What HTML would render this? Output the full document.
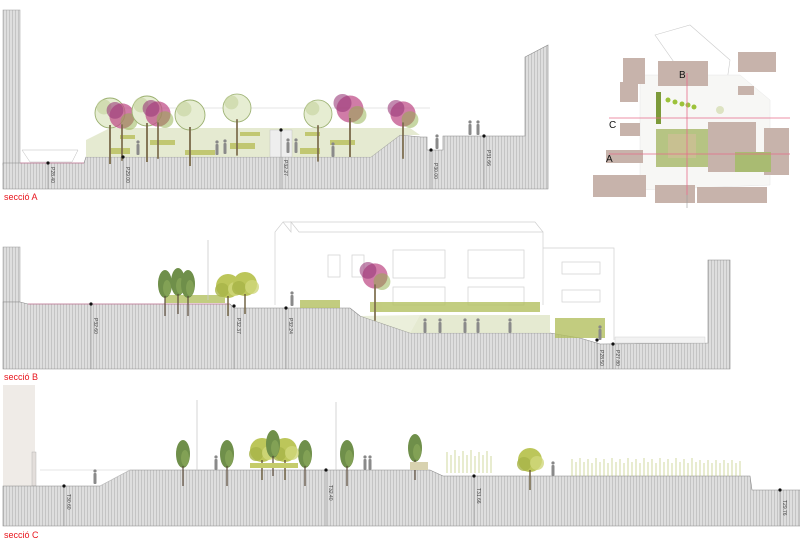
<!DOCTYPE html>
<html><head><meta charset="utf-8"><style>
html,body{margin:0;padding:0;background:#fff;}
svg{display:block;}
.lbl{font-family:"Liberation Sans",sans-serif;font-size:9px;fill:#e8141c;}
.el{font-family:"Liberation Sans",sans-serif;font-size:5px;fill:#444;}
.mk{font-family:"Liberation Sans",sans-serif;font-size:10px;fill:#111;}
</style></head><body>
<svg width="800" height="550" viewBox="0 0 800 550" xmlns="http://www.w3.org/2000/svg">
<defs>
<pattern id="h" width="3" height="10" patternUnits="userSpaceOnUse">
<rect width="3" height="10" fill="#dedede"/><rect width="1" height="10" fill="#c4c4c4"/>
</pattern>
<g id="tp">
<circle cx="0" cy="-10" r="9" fill="#c0508a" opacity=".75"/>
<circle cx="-5" cy="-14" r="6" fill="#9a3a7a" opacity=".6"/>
<circle cx="5" cy="-6" r="6" fill="#8fb04a" opacity=".5"/>
<rect x="-0.6" y="-4" width="1.2" height="26" fill="#7a6a4a"/>
</g>
<g id="tg">
<circle cx="0" cy="-10" r="10" fill="#e6edd2" stroke="#9bb070" stroke-width=".6"/>
<circle cx="-4" cy="-14" r="5" fill="#c4d29c" opacity=".6"/>
<rect x="-0.6" y="-2" width="1.2" height="26" fill="#7a6a4a"/>
</g>
<g id="td">
<ellipse cx="0" cy="-14" rx="7" ry="14" fill="#6f8f4a"/>
<ellipse cx="2" cy="-10" rx="4" ry="8" fill="#8aa85a" opacity=".7"/>
<rect x="-0.6" y="-2" width="1.2" height="20" fill="#5a4a3a"/>
</g>
<g id="ty">
<circle cx="0" cy="-12" r="12" fill="#bcc65a"/>
<circle cx="-6" cy="-8" r="7" fill="#a8b448" opacity=".8"/>
<circle cx="7" cy="-9" r="7" fill="#cfd77a" opacity=".8"/>
<rect x="-0.7" y="-2" width="1.4" height="20" fill="#6a5a3a"/>
</g>
<g id="p"><circle cx="0" cy="-13" r="1.6" fill="#888"/><rect x="-1.5" y="-11" width="3" height="11" rx="1" fill="#8a8a8a"/></g>
</defs>

<!-- ===== SECTION A ===== -->
<rect x="3" y="10" width="17" height="155" fill="url(#h)" stroke="#999" stroke-width=".5"/>
<path d="M3 189 L3 163 L84 163 L86 157 L371 157 L400 135 L421 137 L427 137 L427 150 L443 150 L443 136 L525 136 L525 57 L548 45 L548 189 Z" fill="url(#h)" stroke="#888" stroke-width=".6"/>
<path d="M20 163 L84 163" stroke="#c87a9a" stroke-width=".8"/>
<path d="M22 150 L78 150 L72 162 L30 162 Z" fill="none" stroke="#bbb" stroke-width=".5"/>
<path d="M86 157 L86 140 L110 128 L410 128 L420 135 L400 135 L371 157 Z" fill="#e2e8cc" opacity=".9"/>
<rect x="270" y="130" width="22" height="27" fill="#eee" stroke="#bbb" stroke-width=".4"/>
<path d="M95 108 L430 108" stroke="#ccc" stroke-width=".6"/>
<g fill="#b9bf5a" opacity=".8">
<rect x="110" y="148" width="20" height="6"/><rect x="150" y="140" width="25" height="5"/><rect x="185" y="150" width="30" height="5"/>
<rect x="230" y="143" width="25" height="6"/><rect x="300" y="148" width="20" height="6"/><rect x="330" y="140" width="25" height="5"/>
<rect x="120" y="135" width="15" height="4"/><rect x="240" y="132" width="20" height="4"/><rect x="305" y="132" width="15" height="4"/>
</g>
<g transform="translate(110,128) scale(1.5)"><use href="#tg"/></g>
<g transform="translate(122,130) scale(1.4)"><use href="#tp"/></g>
<g transform="translate(147,126) scale(1.5)"><use href="#tg"/></g>
<g transform="translate(158,128) scale(1.4)"><use href="#tp"/></g>
<g transform="translate(190,130) scale(1.5)"><use href="#tg"/></g>
<g transform="translate(237,122) scale(1.4)"><use href="#tg"/></g>
<g transform="translate(318,128) scale(1.4)"><use href="#tg"/></g>
<g transform="translate(350,124) scale(1.5)"><use href="#tp"/></g>
<g transform="translate(403,128) scale(1.4)"><use href="#tp"/></g>
<use href="#p" x="138" y="155"/><use href="#p" x="217" y="155"/><use href="#p" x="225" y="154"/>
<use href="#p" x="288" y="153"/><use href="#p" x="296" y="153"/><use href="#p" x="333" y="157"/><use href="#p" x="437" y="149"/>
<use href="#p" x="478" y="135"/><use href="#p" x="470" y="135"/>
<g stroke="#888" stroke-width=".5">
<line x1="48" y1="163" x2="48" y2="189"/><line x1="123" y1="157" x2="123" y2="189"/><line x1="281" y1="128" x2="281" y2="189"/>
<line x1="431" y1="150" x2="431" y2="189"/><line x1="484" y1="136" x2="484" y2="189"/>
</g>
<g fill="#111"><circle cx="48" cy="163" r="1.6"/><circle cx="123" cy="157" r="1.6"/><circle cx="281" cy="130" r="1.6"/><circle cx="431" cy="150" r="1.6"/><circle cx="484" cy="136" r="1.6"/></g>
<text class="el" transform="translate(51,167) rotate(90)">P28.40</text>
<text class="el" transform="translate(126,167) rotate(90)">P29.00</text>
<text class="el" transform="translate(284,160) rotate(90)">P32.27</text>
<text class="el" transform="translate(434,163) rotate(90)">P30.00</text>
<text class="el" transform="translate(487,150) rotate(90)">P31.66</text>
<text class="lbl" x="4" y="200">secció A</text>

<!-- ===== MAP ===== -->
<g>
<path d="M655 35 L690 25 L730 60 L725 95 L690 85 Z" fill="none" stroke="#ccc" stroke-width=".6"/>
<path d="M640 75 L740 75 L770 100 L770 185 L640 190 Z" fill="#f7f7f5" stroke="#e6e6e6" stroke-width=".5"/>
<g fill="#c7b3ab">
<rect x="623" y="58" width="22" height="26"/><rect x="620" y="82" width="18" height="20"/>
<rect x="658" y="61" width="50" height="25"/><rect x="738" y="52" width="38" height="20"/>
<rect x="738" y="86" width="16" height="9"/>
<rect x="620" y="123" width="20" height="13"/><rect x="606" y="150" width="37" height="13"/>
<rect x="708" y="122" width="48" height="50"/><rect x="764" y="128" width="25" height="47"/>
<rect x="593" y="175" width="53" height="22"/><rect x="655" y="185" width="40" height="18"/><rect x="697" y="187" width="70" height="16"/>
</g>
<rect x="656" y="129" width="52" height="38" fill="#b6c483"/>
<rect x="668" y="134" width="28" height="24" fill="#cdbf95" opacity=".8"/>
<rect x="656" y="92" width="5" height="32" fill="#7c9a3a"/>
<rect x="735" y="152" width="36" height="20" fill="#a9bb72"/>
<g fill="#9cc23a"><circle cx="668" cy="100" r="2.5"/><circle cx="675" cy="102" r="2.5"/><circle cx="682" cy="104" r="2.5"/><circle cx="688" cy="105" r="2.5"/><circle cx="694" cy="107" r="2.5"/></g>
<circle cx="720" cy="110" r="4" fill="#dde3c2"/>
<g stroke="#e66b8a" stroke-width=".8">
<line x1="609" y1="118" x2="790" y2="118"/><line x1="609" y1="154" x2="790" y2="154"/>
<line x1="687" y1="73" x2="687" y2="195"/>
</g>
<line x1="687" y1="195" x2="687" y2="208" stroke="#999" stroke-width=".6"/>
<text class="mk" x="609" y="128">C</text><text class="mk" x="606" y="162">A</text><text class="mk" x="679" y="78">B</text>
</g>

<!-- ===== SECTION B ===== -->
<g fill="none" stroke="#d0d0d0" stroke-width=".7">
<path d="M275 305 L275 232 L283 222 L291 232 L291 222 L299 232 L543 232 L543 305"/>
<path d="M283 222 L535 222 L543 232"/>
<path d="M543 248 L614 248 L614 340"/>
<rect x="328" y="255" width="12" height="22"/><rect x="352" y="255" width="12" height="22"/>
<rect x="393" y="250" width="52" height="28"/><rect x="468" y="250" width="56" height="28"/>
<rect x="393" y="287" width="52" height="18"/><rect x="468" y="287" width="56" height="18"/>
<rect x="562" y="262" width="38" height="12"/><rect x="562" y="290" width="38" height="12"/>
</g>
<rect x="3" y="247" width="17" height="55" fill="url(#h)" stroke="#999" stroke-width=".5"/>
<path d="M3 369 L3 302 L20 302 L28 304 L230 304 L234 308 L350 308 L360 316 L410 333 L550 333 L580 338 L600 344 L708 343 L708 260 L730 260 L730 369 Z" fill="url(#h)" stroke="#888" stroke-width=".6"/>
<path d="M28 304 L230 304" stroke="#c87a9a" stroke-width=".7"/>
<path d="M410 333 L550 333 L550 315 L420 315 Z" fill="#e2e8cc" opacity=".9"/>
<path d="M360 316 L410 333 L420 315 Z" fill="#e2e8cc" opacity=".7"/>
<rect x="615" y="337" width="90" height="6" fill="#f2f2f2" stroke="#ccc" stroke-width=".4"/>
<g fill="#b3c060" opacity=".8"><rect x="300" y="300" width="40" height="8"/><rect x="370" y="302" width="170" height="10"/><rect x="555" y="318" width="50" height="20"/><rect x="165" y="295" width="60" height="8"/></g>
<use href="#td" x="165" y="298"/><use href="#td" x="178" y="296"/><use href="#td" x="188" y="298"/>
<use href="#ty" x="228" y="298"/><use href="#ty" x="245" y="296"/>
<g transform="translate(375,290) scale(1.4)"><use href="#tp"/></g>
<line x1="208" y1="240" x2="208" y2="300" stroke="#ccc" stroke-width=".8"/>
<use href="#p" x="292" y="306"/><use href="#p" x="425" y="333"/><use href="#p" x="440" y="333"/><use href="#p" x="465" y="333"/><use href="#p" x="478" y="333"/><use href="#p" x="510" y="333"/><use href="#p" x="600" y="340"/>
<g stroke="#888" stroke-width=".5">
<line x1="91" y1="304" x2="91" y2="369"/><line x1="234" y1="306" x2="234" y2="369"/><line x1="286" y1="308" x2="286" y2="369"/>
<line x1="597" y1="340" x2="597" y2="369"/><line x1="613" y1="344" x2="613" y2="369"/>
</g>
<g fill="#111"><circle cx="91" cy="304" r="1.6"/><circle cx="234" cy="306" r="1.6"/><circle cx="286" cy="308" r="1.6"/><circle cx="597" cy="340" r="1.6"/><circle cx="613" cy="344" r="1.6"/></g>
<text class="el" transform="translate(94,318) rotate(90)">P32.60</text>
<text class="el" transform="translate(237,318) rotate(90)">P32.37</text>
<text class="el" transform="translate(289,318) rotate(90)">P32.24</text>
<text class="el" transform="translate(600,350) rotate(90)">P28.50</text>
<text class="el" transform="translate(616,350) rotate(90)">P27.80</text>
<text class="lbl" x="4" y="380">secció B</text>

<!-- ===== SECTION C ===== -->
<rect x="3" y="385" width="32" height="101" fill="#efebe7"/>
<rect x="32" y="452" width="4" height="34" fill="#e3dedb" stroke="#aaa" stroke-width=".4"/>
<path d="M3 526 L3 486 L100 486 L130 470 L430 470 L443 476 L750 476 L752 490 L800 490 L800 526 Z" fill="url(#h)" stroke="#888" stroke-width=".6"/>
<path d="M40 470 L130 470 L100 486" fill="none" stroke="#ccc" stroke-width=".5"/>
<use href="#td" x="183" y="468"/><use href="#td" x="227" y="468"/><use href="#td" x="305" y="468"/><use href="#td" x="347" y="468"/>
<use href="#ty" x="262" y="462"/><use href="#ty" x="285" y="462"/><use href="#td" x="273" y="458"/>
<rect x="250" y="463" width="48" height="5" fill="#c5cc6a"/>
<use href="#td" x="415" y="462"/><rect x="410" y="462" width="18" height="8" fill="#d8d2b0"/>
<use href="#ty" x="530" y="472"/>
<g stroke="#b7c46a" stroke-width=".7" opacity=".9">
<path d="M447 473 V452 M451 473 V455 M455 473 V450 M459 473 V456 M463 473 V451 M467 473 V455 M471 473 V450 M475 473 V456 M479 473 V452 M483 473 V455 M487 473 V451 M491 473 V456"/>
<path d="M572 476 V459 M576 476 V462 M580 476 V458 M584 476 V462 M588 476 V459 M592 476 V463 M596 476 V458 M600 476 V462 M604 476 V459 M608 476 V463 M612 476 V458 M616 476 V462 M620 476 V459 M624 476 V463 M628 476 V458 M632 476 V462 M636 476 V459 M640 476 V463 M644 476 V458 M648 476 V462 M652 476 V459 M656 476 V463 M660 476 V458 M664 476 V462 M668 476 V459 M672 476 V463 M676 476 V458 M680 476 V462 M684 476 V459 M688 476 V463 M692 476 V458 M696 476 V462 M700 476 V460 M704 476 V463 M708 476 V460 M712 476 V463 M716 476 V460 M720 476 V463 M724 476 V460 M728 476 V463 M732 476 V460 M736 476 V463 M740 476 V461"/>
</g>
<line x1="197" y1="400" x2="197" y2="470" stroke="#ccc" stroke-width=".8"/><line x1="336" y1="402" x2="336" y2="470" stroke="#ccc" stroke-width=".8"/>
<use href="#p" x="95" y="484"/><use href="#p" x="216" y="470"/><use href="#p" x="365" y="470"/><use href="#p" x="370" y="470"/><use href="#p" x="553" y="476"/>
<g stroke="#888" stroke-width=".5">
<line x1="64" y1="486" x2="64" y2="526"/><line x1="326" y1="470" x2="326" y2="526"/><line x1="474" y1="476" x2="474" y2="526"/><line x1="780" y1="490" x2="780" y2="526"/>
</g>
<g fill="#111"><circle cx="64" cy="486" r="1.6"/><circle cx="326" cy="470" r="1.6"/><circle cx="474" cy="476" r="1.6"/><circle cx="780" cy="490" r="1.6"/></g>
<text class="el" transform="translate(67,494) rotate(90)">T30.60</text>
<text class="el" transform="translate(329,485) rotate(90)">T32.40</text>
<text class="el" transform="translate(477,488) rotate(90)">T31.66</text>
<text class="el" transform="translate(783,500) rotate(90)">T29.76</text>
<text class="lbl" x="4" y="538">secció C</text>
</svg>
</body></html>
